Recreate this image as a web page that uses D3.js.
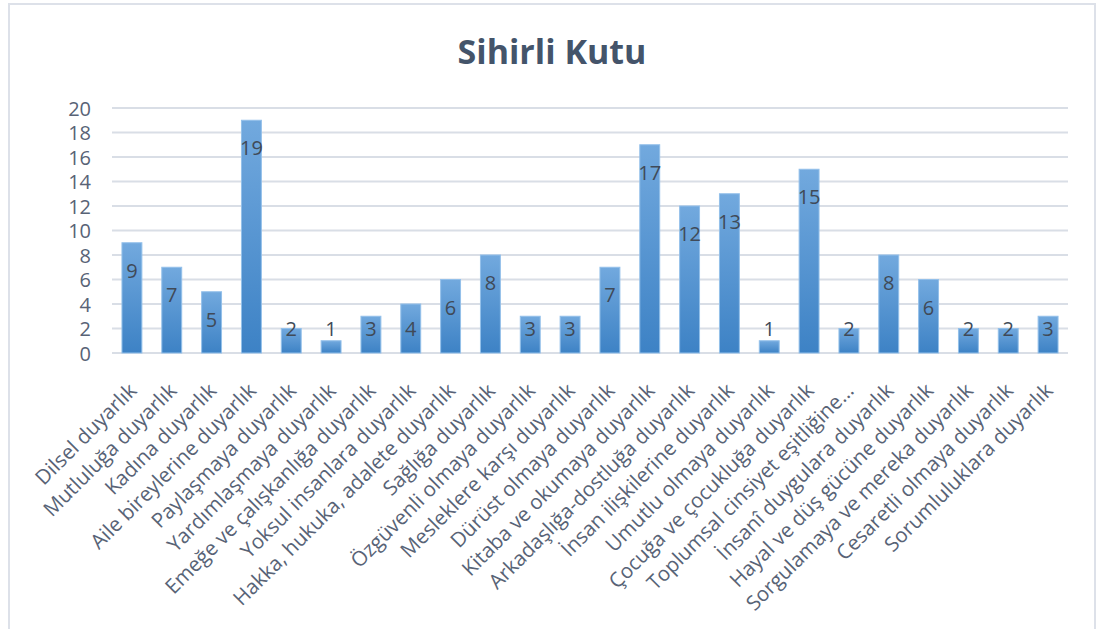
<!DOCTYPE html>
<html>
<head>
  <meta charset="utf-8">
  <title>Sihirli Kutu</title>
  <script src="https://d3js.org/d3.v7.min.js"></script>
  <style>
    body { margin: 0; background: #fff; }
    .grid line { stroke: #d9dee6; stroke-width: 2px; }
    .axis text { fill: #586376; font-family: "Open Sans", sans-serif; }
  </style>
</head>
<body>
  <script>
    var categories = [
      "Dilsel duyarlık", "Mutluluğa duyarlık", "Kadına duyarlık", "Aile bireylerine duyarlık",
      "Paylaşmaya duyarlık", "Yardımlaşmaya duyarlık", "Emeğe ve çalışkanlığa duyarlık",
      "Yoksul insanlara duyarlık", "Hakka, hukuka, adalete duyarlık", "Sağlığa duyarlık",
      "Özgüvenli olmaya duyarlık", "Mesleklere karşı duyarlık", "Dürüst olmaya duyarlık",
      "Kitaba ve okumaya duyarlık", "Arkadaşlığa-dostluğa duyarlık", "İnsan ilişkilerine duyarlık",
      "Umutlu olmaya duyarlık", "Çocuğa ve çocukluğa duyarlık", "Toplumsal cinsiyet eşitliğine…",
      "İnsanî duygulara duyarlık", "Hayal ve düş gücüne duyarlık", "Sorgulamaya ve mereka duyarlık",
      "Cesaretli olmaya duyarlık", "Sorumluluklara duyarlık"
    ];
    var values = [9, 7, 5, 19, 2, 1, 3, 4, 6, 8, 3, 3, 7, 17, 12, 13, 1, 15, 2, 8, 6, 2, 2, 3];
    var yTicks = [0, 2, 4, 6, 8, 10, 12, 14, 16, 18, 20];

    var width = 1097, height = 629;
    var plotLeft = 112, plotRight = 1068, plotTop = 108, plotBottom = 353;

    var svg = d3.select("body").append("svg")
        .attr("width", width)
        .attr("height", height);

    // gradient for bars
    var grad = svg.append("defs").append("linearGradient")
        .attr("id", "barGrad")
        .attr("x1", 0).attr("y1", 0).attr("x2", 0).attr("y2", 1);
    grad.append("stop").attr("offset", "0%").attr("stop-color", "#72a9de");
    grad.append("stop").attr("offset", "100%").attr("stop-color", "#3d82c5");

    // chart border
    svg.append("rect")
        .attr("x", 9).attr("y", 4)
        .attr("width", 1086).attr("height", 640)
        .attr("fill", "none")
        .attr("stroke", "#dde1e9")
        .attr("stroke-width", 2);

    svg.append("text")
        .attr("x", 552).attr("y", 64)
        .attr("text-anchor", "middle")
        .attr("font-family", "'Open Sans', sans-serif")
        .attr("font-weight", "bold")
        .attr("font-size", 34)
        .attr("fill", "#44546a")
        .text("Sihirli Kutu");

    var x = d3.scaleBand()
        .domain(categories)
        .range([plotLeft, plotRight])
        .paddingInner(0.5)
        .paddingOuter(0.25);

    var y = d3.scaleLinear()
        .domain([0, 20])
        .range([plotBottom, plotTop]);

    // gridlines
    svg.append("g")
        .attr("class", "grid")
        .selectAll("line")
        .data(yTicks)
        .enter().append("line")
        .attr("x1", plotLeft).attr("x2", plotRight)
        .attr("y1", function(d) { return y(d); })
        .attr("y2", function(d) { return y(d); });

    // y axis labels
    var yAxis = svg.append("g")
        .attr("class", "axis")
        .attr("transform", "translate(" + (plotLeft - 21) + ",0)")
        .call(d3.axisLeft(y).tickValues(yTicks).tickSize(0).tickPadding(0));
    yAxis.select(".domain").remove();
    yAxis.selectAll("text").attr("font-size", 20).attr("dy", "0.35em");

    // bars
    svg.append("g")
        .selectAll("rect")
        .data(values)
        .enter().append("rect")
        .attr("x", function(d, i) { return x(categories[i]); })
        .attr("y", function(d) { return y(d); })
        .attr("width", x.bandwidth())
        .attr("height", function(d) { return plotBottom - y(d); })
        .attr("fill", "url(#barGrad)")
        .attr("stroke", "#93c0ea")
        .attr("stroke-width", 1);

    // data labels
    svg.append("g")
        .selectAll("text")
        .data(values)
        .enter().append("text")
        .attr("x", function(d, i) { return x(categories[i]) + x.bandwidth() / 2; })
        .attr("y", function(d) { return Math.min(y(d) + 28, 329); })
        .attr("dy", "0.35em")
        .attr("text-anchor", "middle")
        .attr("font-family", "'Open Sans', sans-serif")
        .attr("font-size", 20)
        .attr("fill", "#404a58")
        .text(function(d) { return d; });

    // x labels
    var xAxis = svg.append("g")
        .attr("class", "axis")
        .attr("transform", "translate(0," + plotBottom + ")")
        .call(d3.axisBottom(x).tickSize(0).tickPadding(0));
    xAxis.select(".domain").remove();
    xAxis.selectAll("text")
        .attr("font-size", 20.5)
        .attr("text-anchor", "end")
        .attr("dy", 0)
        .attr("transform", "translate(6,39) rotate(-45)");
  </script>
</body>
</html>
